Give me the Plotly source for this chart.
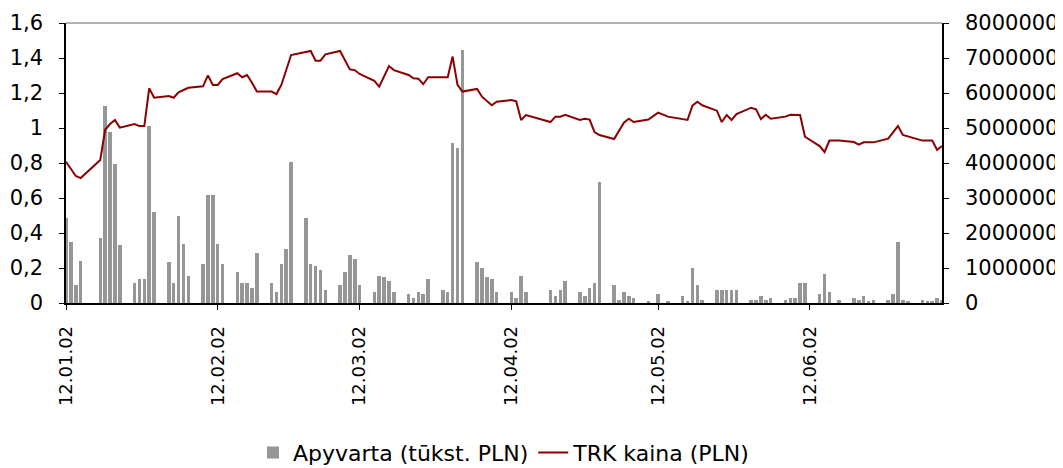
import plotly.graph_objects as go

# ---- data ----
vol_dates = [
    "2012-01-02", "2012-01-03", "2012-01-04", "2012-01-05",
    "2012-01-09", "2012-01-10", "2012-01-11", "2012-01-12", "2012-01-13",
    "2012-01-16", "2012-01-17", "2012-01-18", "2012-01-19", "2012-01-20",
    "2012-01-23", "2012-01-24", "2012-01-25", "2012-01-26", "2012-01-27",
    "2012-01-30", "2012-01-31", "2012-02-01", "2012-02-02", "2012-02-03",
    "2012-02-06", "2012-02-07", "2012-02-08", "2012-02-09", "2012-02-10",
    "2012-02-13", "2012-02-14", "2012-02-15", "2012-02-16", "2012-02-17",
    "2012-02-20", "2012-02-21", "2012-02-22", "2012-02-23", "2012-02-24",
    "2012-02-27", "2012-02-28", "2012-02-29", "2012-03-01", "2012-03-02",
    "2012-03-05", "2012-03-06", "2012-03-07", "2012-03-08", "2012-03-09",
    "2012-03-12", "2012-03-13", "2012-03-14", "2012-03-15", "2012-03-16",
    "2012-03-19", "2012-03-20", "2012-03-21", "2012-03-22", "2012-03-23",
    "2012-03-26", "2012-03-27", "2012-03-28", "2012-03-29", "2012-03-30",
    "2012-04-02", "2012-04-03", "2012-04-04", "2012-04-05",
    "2012-04-10", "2012-04-11", "2012-04-12", "2012-04-13",
    "2012-04-16", "2012-04-17", "2012-04-18", "2012-04-19", "2012-04-20",
    "2012-04-23", "2012-04-24", "2012-04-25", "2012-04-26", "2012-04-27",
    "2012-04-30", "2012-05-02", "2012-05-04",
    "2012-05-07", "2012-05-08", "2012-05-09", "2012-05-10", "2012-05-11",
    "2012-05-14", "2012-05-15", "2012-05-16", "2012-05-17", "2012-05-18",
    "2012-05-21", "2012-05-22", "2012-05-23", "2012-05-24", "2012-05-25",
    "2012-05-28", "2012-05-29", "2012-05-30", "2012-05-31", "2012-06-01",
    "2012-06-04", "2012-06-05", "2012-06-06", "2012-06-08",
    "2012-06-11", "2012-06-12", "2012-06-13", "2012-06-14", "2012-06-15",
    "2012-06-18", "2012-06-19", "2012-06-20", "2012-06-21", "2012-06-22",
    "2012-06-25", "2012-06-26", "2012-06-27", "2012-06-28", "2012-06-29",
]
volumes = [
    2420000, 1745000, 515000, 1200000,
    1855000, 5630000, 4885000, 3970000, 1655000,
    570000, 695000, 695000, 5055000, 2600000,
    1170000, 570000, 2485000, 1685000, 770000,
    1115000, 3085000, 3085000, 1685000, 1115000,
    885000, 570000, 570000, 430000, 1430000,
    570000, 315000, 1115000, 1545000, 4030000,
    2430000, 1115000, 1055000, 945000, 370000,
    515000, 885000, 1370000, 1255000, 515000,
    315000, 770000, 745000, 630000, 315000,
    255000, 145000, 315000, 255000, 685000,
    370000, 315000, 4570000, 4430000, 7230000,
    1170000, 1000000, 745000, 685000, 315000,
    315000, 145000, 770000, 315000,
    370000, 200000, 370000, 630000,
    315000, 200000, 430000, 570000, 3455000,
    515000, 85000, 315000, 200000, 145000,
    55000, 255000, 55000,
    200000, 55000, 1000000, 515000, 85000,
    370000, 370000, 370000, 370000, 370000,
    85000, 85000, 200000, 85000, 145000,
    85000, 145000, 145000, 570000, 570000,
    255000, 830000, 315000, 85000,
    145000, 85000, 200000, 55000, 85000,
    85000, 255000, 1745000, 85000, 55000,
    85000, 55000, 55000, 145000, 85000,
]

price_dates = [
    "2012-01-02", "2012-01-03", "2012-01-04", "2012-01-05",
    "2012-01-09", "2012-01-10", "2012-01-11", "2012-01-12", "2012-01-13",
    "2012-01-16", "2012-01-17", "2012-01-18", "2012-01-19", "2012-01-20",
    "2012-01-23", "2012-01-24", "2012-01-25", "2012-01-26", "2012-01-27",
    "2012-01-30", "2012-01-31", "2012-02-01", "2012-02-02", "2012-02-03",
    "2012-02-06", "2012-02-07", "2012-02-08", "2012-02-09", "2012-02-10",
    "2012-02-13", "2012-02-14", "2012-02-15", "2012-02-17",
    "2012-02-21", "2012-02-22", "2012-02-23", "2012-02-24",
    "2012-02-27", "2012-02-29", "2012-03-01", "2012-03-02",
    "2012-03-05", "2012-03-06", "2012-03-08", "2012-03-09",
    "2012-03-12", "2012-03-13", "2012-03-14", "2012-03-15", "2012-03-16",
    "2012-03-20", "2012-03-21", "2012-03-22", "2012-03-23",
    "2012-03-26", "2012-03-27", "2012-03-29", "2012-03-30",
    "2012-04-02", "2012-04-03", "2012-04-04", "2012-04-05",
    "2012-04-10", "2012-04-11", "2012-04-12", "2012-04-13",
    "2012-04-16", "2012-04-17", "2012-04-18", "2012-04-19", "2012-04-20",
    "2012-04-23", "2012-04-24", "2012-04-25", "2012-04-26", "2012-04-27",
    "2012-04-30", "2012-05-02", "2012-05-04",
    "2012-05-07", "2012-05-08", "2012-05-09", "2012-05-10", "2012-05-11",
    "2012-05-14", "2012-05-15", "2012-05-16", "2012-05-17", "2012-05-18",
    "2012-05-21", "2012-05-22", "2012-05-23", "2012-05-24", "2012-05-25",
    "2012-05-28", "2012-05-29", "2012-05-31", "2012-06-01",
    "2012-06-04", "2012-06-05", "2012-06-06", "2012-06-08",
    "2012-06-11", "2012-06-12", "2012-06-13", "2012-06-15",
    "2012-06-18", "2012-06-20", "2012-06-21",
    "2012-06-25", "2012-06-27", "2012-06-28", "2012-06-29",
]
prices = [
    0.807, 0.770, 0.726, 0.714,
    0.817, 0.990, 1.023, 1.046, 1.002,
    1.023, 1.011, 1.011, 1.227, 1.173,
    1.183, 1.173, 1.204, 1.217, 1.230,
    1.238, 1.301, 1.246, 1.246, 1.280,
    1.313, 1.290, 1.303, 1.259, 1.208,
    1.208, 1.194, 1.246, 1.417,
    1.440, 1.385, 1.385, 1.421,
    1.440, 1.335, 1.331, 1.309,
    1.270, 1.236, 1.354, 1.331,
    1.303, 1.284, 1.282, 1.250, 1.290,
    1.290, 1.408, 1.246, 1.208,
    1.223, 1.179, 1.130, 1.150,
    1.160, 1.152, 1.046, 1.074,
    1.034, 1.065, 1.065, 1.076,
    1.046, 1.053, 1.048, 0.977, 0.960,
    0.937, 0.983, 1.030, 1.053, 1.034,
    1.048, 1.088, 1.065,
    1.053, 1.046, 1.128, 1.150, 1.130,
    1.099, 1.034, 1.074, 1.046, 1.080,
    1.116, 1.107, 1.051, 1.076, 1.053,
    1.065, 1.076, 1.074, 0.950,
    0.897, 0.863, 0.928, 0.928,
    0.920, 0.905, 0.918, 0.918,
    0.939, 1.011, 0.960,
    0.928, 0.928, 0.874, 0.897,
]

tick_dates = ["2012-01-02", "2012-02-02", "2012-03-02", "2012-04-02", "2012-05-02", "2012-06-02"]

# ---- figure ----
FONT = "DejaVu Sans"
DAY_MS = 86400000

fig = go.Figure()
fig.add_trace(go.Bar(
    x=vol_dates, y=volumes, name="Apyvarta (tūkst. PLN)",
    marker=dict(color="#969696", line=dict(width=0)),
    width=0.72 * DAY_MS, yaxis="y",
))
fig.add_trace(go.Scatter(
    x=price_dates, y=prices, name="TRK kaina (PLN)", mode="lines",
    line=dict(color="#8B0000", width=2), yaxis="y2",
))

# the page body adds an 8 px offset, so the figure is 8 px smaller and shifted
fig.update_layout(
    width=1055, height=460,
    margin=dict(l=58, r=121, t=15, b=165),
    paper_bgcolor="white", plot_bgcolor="white",
    font=dict(family=FONT, size=20, color="#000000"),
    separators=",.",
    showlegend=True,
    legend=dict(orientation="h", x=0.5, xanchor="center",
                yref="container", y=0.033, yanchor="middle",
                font=dict(size=22), traceorder="normal"),
    bargap=0,
    xaxis=dict(
        type="date", range=["2012-01-02", "2012-06-29"],
        tickvals=tick_dates, tickformat="%y.%m.%d", tickangle=-90,
        showgrid=False, showline=True, linecolor="#000000", linewidth=1.5,
        ticks="outside", ticklen=5, tickcolor="#000000",
        ticklabelstandoff=9, automargin=False,
        tickfont=dict(size=18),
    ),
    yaxis=dict(
        side="right", range=[0, 8000000], dtick=1000000, tickformat="d",
        showgrid=False, showline=True, linecolor="#000000", linewidth=1.5,
        ticks="outside", ticklen=5, tickcolor="#000000", zeroline=False,
        ticklabelstandoff=12, automargin=False,
        tickfont=dict(size=21),
    ),
    yaxis2=dict(
        side="left", overlaying="y", range=[0, 1.6], dtick=0.2,
        showgrid=False, showline=True, linecolor="#000000", linewidth=1.5,
        ticks="outside", ticklen=5, tickcolor="#000000", zeroline=False,
        ticklabelstandoff=12, automargin=False,
        tickfont=dict(size=21),
    ),
    shapes=[dict(type="line", xref="paper", yref="paper", x0=0, x1=1, y0=1, y1=1,
                 line=dict(color="#999999", width=1.5))],
)

fig.write_html("out.html")
